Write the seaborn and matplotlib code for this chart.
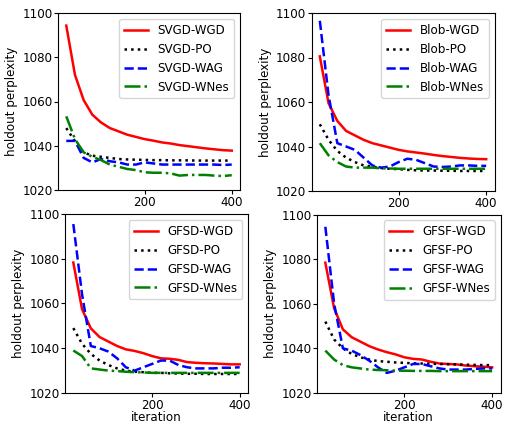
import matplotlib
matplotlib.use("Agg")
import matplotlib.pyplot as plt
import seaborn as sns
import numpy as np

iters = [20, 40, 60, 80, 100, 120, 140, 160, 180, 200, 220, 240, 260, 280, 300, 320, 340, 360, 380, 400]

svgd_wgd = [1094.3, 1072.0, 1060.6, 1054.0, 1050.5, 1048.0, 1046.5, 1045.0, 1044.0, 1043.0, 1042.3, 1041.5, 1041.0, 1040.3, 1039.8, 1039.3, 1038.8, 1038.4, 1038.0, 1037.8]
svgd_po = [1048.0, 1042.0, 1037.0, 1035.5, 1035.0, 1034.5, 1034.0, 1033.8, 1033.7, 1033.6, 1033.5, 1033.5, 1033.4, 1033.4, 1033.4, 1033.3, 1033.3, 1033.3, 1033.3, 1033.3]
svgd_wag = [1042.2, 1042.2, 1034.5, 1032.5, 1034.0, 1033.0, 1032.5, 1031.5, 1031.5, 1032.5, 1032.0, 1031.5, 1031.5, 1031.5, 1031.5, 1031.5, 1031.5, 1031.5, 1031.3, 1031.5]
svgd_wnes = [1053.3, 1043.0, 1037.0, 1035.0, 1033.5, 1031.5, 1030.5, 1029.5, 1029.0, 1028.0, 1027.8, 1027.8, 1027.5, 1026.5, 1026.8, 1026.8, 1026.8, 1026.5, 1026.3, 1026.7]

blob_wgd = [1080.5, 1059.4, 1051.5, 1047.0, 1045.0, 1043.0, 1041.5, 1040.5, 1039.5, 1038.5, 1037.8, 1037.3, 1036.8, 1036.2, 1035.7, 1035.3, 1034.9, 1034.6, 1034.4, 1034.3]
blob_po = [1050.0, 1043.0, 1038.0, 1035.0, 1033.0, 1031.5, 1031.0, 1030.3, 1030.0, 1029.8, 1029.5, 1029.3, 1029.2, 1029.2, 1029.1, 1029.1, 1029.0, 1029.0, 1029.0, 1029.0]
blob_wag = [1096.5, 1063.0, 1041.5, 1040.0, 1038.5, 1035.0, 1031.5, 1030.5, 1031.0, 1033.0, 1034.5, 1034.0, 1032.5, 1031.0, 1030.8, 1031.0, 1031.5, 1031.5, 1031.3, 1031.3]
blob_wnes = [1041.5, 1036.0, 1033.0, 1031.0, 1030.5, 1030.5, 1030.5, 1030.2, 1030.1, 1030.0, 1030.0, 1030.0, 1030.0, 1030.0, 1030.0, 1030.0, 1030.0, 1030.0, 1030.0, 1030.0]

gfsd_wgd = [1078.3, 1057.4, 1048.9, 1045.0, 1043.0, 1041.0, 1039.5, 1038.8, 1037.8, 1036.5, 1035.5, 1035.3, 1034.8, 1033.8, 1033.5, 1033.3, 1033.2, 1033.0, 1032.8, 1032.8]
gfsd_po = [1049.0, 1042.0, 1037.5, 1034.5, 1032.5, 1031.0, 1030.0, 1029.5, 1029.3, 1029.0, 1029.0, 1028.8, 1028.7, 1028.6, 1028.6, 1028.5, 1028.5, 1028.5, 1028.5, 1028.5]
gfsd_wag = [1095.5, 1064.0, 1041.0, 1040.0, 1038.5, 1035.5, 1031.5, 1030.0, 1031.5, 1033.0, 1034.5, 1034.5, 1032.5, 1031.5, 1031.0, 1031.0, 1031.0, 1031.3, 1031.3, 1031.5]
gfsd_wnes = [1039.0, 1036.5, 1031.0, 1030.5, 1030.0, 1029.8, 1029.5, 1029.3, 1029.2, 1029.0, 1029.0, 1029.0, 1029.0, 1029.0, 1029.0, 1029.0, 1029.0, 1029.0, 1029.0, 1029.0]

gfsf_wgd = [1078.4, 1058.0, 1048.5, 1045.0, 1043.0, 1041.0, 1039.5, 1038.3, 1037.3, 1036.0, 1035.3, 1035.0, 1034.0, 1033.2, 1033.0, 1032.8, 1032.3, 1032.0, 1031.8, 1031.5]
gfsf_po = [1052.0, 1044.0, 1040.0, 1037.5, 1036.0, 1035.0, 1034.3, 1034.0, 1033.7, 1033.5, 1033.3, 1033.2, 1033.1, 1033.0, 1032.9, 1032.8, 1032.7, 1032.6, 1032.5, 1032.5]
gfsf_wag = [1094.5, 1060.0, 1040.0, 1039.0, 1037.0, 1034.5, 1031.5, 1029.0, 1030.0, 1031.5, 1033.0, 1033.0, 1032.0, 1031.0, 1030.5, 1030.5, 1030.5, 1030.8, 1031.0, 1031.0]
gfsf_wnes = [1039.0, 1035.0, 1032.5, 1031.5, 1031.0, 1030.5, 1030.3, 1030.2, 1030.0, 1030.0, 1029.9, 1029.9, 1029.9, 1029.8, 1029.8, 1029.8, 1029.8, 1029.8, 1029.8, 1029.8]

methods = ["WGD", "PO", "WAG", "WNes"]
prefixes = ["SVGD", "Blob", "GFSD", "GFSF"]
panel_data = [
    [svgd_wgd, svgd_po, svgd_wag, svgd_wnes],
    [blob_wgd, blob_po, blob_wag, blob_wnes],
    [gfsd_wgd, gfsd_po, gfsd_wag, gfsd_wnes],
    [gfsf_wgd, gfsf_po, gfsf_wag, gfsf_wnes],
]
yticks = [1020, 1040, 1060, 1080, 1100]

colors = ["red", "black", "blue", "green"]
styles = ["-", ":", "--", "-."]

plt.rcParams["font.family"] = ["DejaVu Sans"]

fig = plt.figure(figsize=(5.05, 4.22), dpi=100)
W, H = 505.0, 422.0
boxes = [
    (58, 240, 13, 190),
    (311.5, 494.5, 13, 191),
    (65, 248, 214, 393),
    (317, 500.5, 214.5, 393),
]
fs = 8.6
for i, (x0, x1, y0, y1) in enumerate(boxes):
    ax = fig.add_axes([x0 / W, 1 - y1 / H, (x1 - x0) / W, (y1 - y0) / H])
    for j in range(4):
        sns.lineplot(x=iters, y=panel_data[i][j], ax=ax, color=colors[j],
                     linestyle=styles[j], linewidth=1.8,
                     label=f"{prefixes[i]}-{methods[j]}")
    ax.set_ylim(1020, 1100)
    ax.set_xlim(1, 419)
    ax.set_yticks(yticks)
    ax.set_xticks([200, 400])
    ax.tick_params(labelsize=fs, length=2.8, pad=1.2)
    ax.set_ylabel("holdout perplexity", fontsize=fs, labelpad=3)
    if i >= 2:
        ax.set_xlabel("iteration", fontsize=fs, labelpad=-0.5)
    ax.legend(loc="upper right", fontsize=fs)

fig.savefig("out.png", dpi=100)
